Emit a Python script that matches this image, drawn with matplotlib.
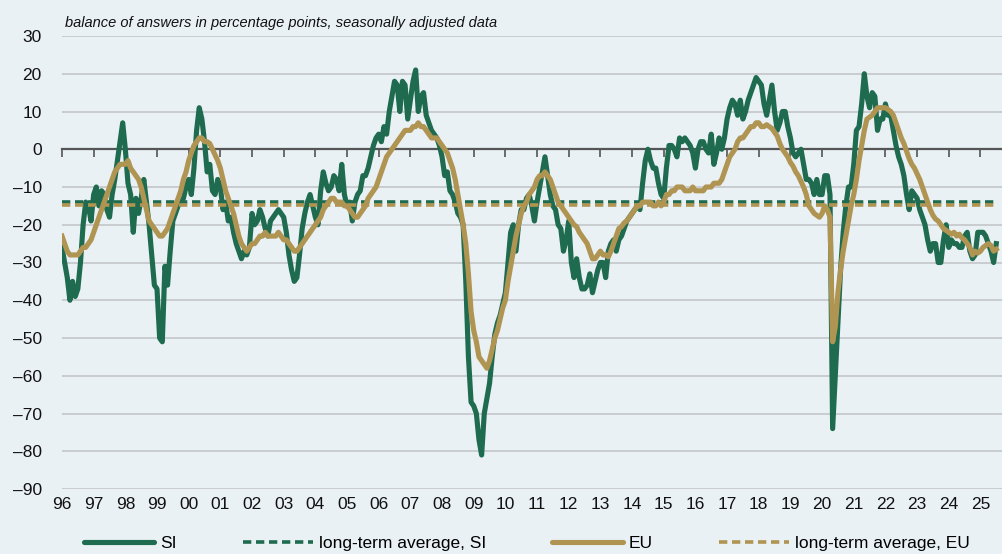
import numpy as np
import matplotlib
matplotlib.use("Agg")
import matplotlib.pyplot as plt
from matplotlib import font_manager
from matplotlib.lines import Line2D
from matplotlib.ticker import FuncFormatter

# ---------------- data (monthly, Jan 1996 - Jul 2025) ----------------
si_values = (
    [-26, -30, -34, -40, -35, -39, -37, -30, -20, -14, -15, -19]      # 1996
    + [-12, -10, -15, -11, -12, -16, -18, -12, -8, -3, 2, 7]          # 1997
    + [0, -9, -12, -22, -13, -17, -13, -8, -14, -20, -28, -36]        # 1998
    + [-37, -50, -51, -31, -36, -27, -19, -17, -15, -14, -13, -10]    # 1999
    + [-8, -12, -5, 5, 11, 8, 2, -6, -4, -11, -12, -8]                # 2000
    + [-10, -16, -14, -19, -18, -22, -25, -27, -29, -27, -28, -26]    # 2001
    + [-17, -20, -19, -16, -18, -21, -23, -19, -18, -17, -16, -17]    # 2002
    + [-18, -22, -28, -32, -35, -34, -28, -21, -17, -14, -12, -15]    # 2003
    + [-18, -20, -11, -6, -9, -11, -10, -7, -8, -11, -4, -12]         # 2004
    + [-15, -14, -19, -14, -12, -11, -7, -7, -5, -2, 1, 3]            # 2005
    + [4, 2, 6, 4, 10, 14, 18, 17, 10, 18, 17, 8]                     # 2006
    + [13, 18, 21, 10, 14, 15, 9, 7, 5, 4, 3, 1]                      # 2007
    + [-2, -7, -6, -11, -12, -14, -17, -18, -20, -35, -55, -67]       # 2008
    + [-68, -70, -77, -81, -70, -66, -62, -55, -49, -46, -44, -41]    # 2009
    + [-38, -30, -22, -20, -27, -20, -16, -16, -13, -12, -15, -19]    # 2010
    + [-14, -10, -6, -2, -7, -12, -15, -16, -20, -21, -27, -24]       # 2011
    + [-19, -30, -34, -29, -34, -37, -37, -36, -33, -38, -35, -32]    # 2012
    + [-30, -30, -34, -27, -25, -24, -27, -24, -23, -21, -19, -18]    # 2013
    + [-17, -16, -15, -16, -9, -3, 0, -3, -5, -5, -9, -12]            # 2014
    + [-13, -5, 1, 1, 0, -2, 3, 2, 3, 2, 1, -1]                       # 2015
    + [-5, 0, 2, 2, 0, -1, 4, -4, -1, 3, 0, 3]                        # 2016
    + [8, 11, 13, 12, 9, 13, 8, 10, 13, 15, 17, 19]                   # 2017
    + [18, 17, 12, 9, 13, 17, 10, 5, 7, 10, 10, 6]                    # 2018
    + [3, -1, -2, -1, 0, -4, -8, -8, -9, -12, -8, -12]                # 2019
    + [-12, -7, -7, -12, -74, -60, -46, -32, -22, -15, -10, -10]      # 2020
    + [-4, 5, 6, 12, 20, 14, 11, 15, 14, 5, 8, 8]                     # 2021
    + [12, 9, 9, 5, 1, -2, -4, -7, -12, -16, -11, -12]                # 2022
    + [-13, -16, -18, -20, -24, -27, -25, -25, -30, -30, -24, -20]    # 2023
    + [-26, -24, -25, -25, -26, -26, -23, -22, -27, -29, -28, -22]    # 2024
    + [-22, -22, -23, -25, -27, -30, -25]                             # 2025
)

eu_values = (
    [-23, -25, -27, -28, -28, -28, -28, -27, -26, -26, -25, -24]      # 1996
    + [-22, -20, -18, -16, -14, -12, -10, -8, -6, -5, -4, -4]         # 1997
    + [-4, -3, -5, -6, -7, -8, -10, -13, -16, -19, -20, -21]          # 1998
    + [-22, -23, -23, -22, -21, -19, -17, -15, -13, -11, -8, -6]      # 1999
    + [-3, -1, 1, 2, 3, 3, 2, 2, 1.5, 0, -1.5, -3]                    # 2000
    + [-5, -8, -11, -13, -15, -17, -20, -23, -25, -26, -27, -26]      # 2001
    + [-25, -25, -24, -23, -23, -22, -23, -23, -23, -23, -22, -23]    # 2002
    + [-24, -24, -25, -26, -27, -27, -26, -25, -24, -23, -22, -21]    # 2003
    + [-20, -19, -18, -16, -15, -14, -13, -13, -14, -14, -14, -15]    # 2004
    + [-15, -16, -17, -18, -18, -17, -16, -15, -13, -12, -11, -10]    # 2005
    + [-8, -6, -4, -2, -1, 0, 1, 2, 3, 4, 5, 5]                       # 2006
    + [5, 6, 6, 7, 6, 6, 5, 4, 3, 3, 3, 2]                            # 2007
    + [1, 0, -1, -3, -5, -8, -12, -16, -20, -25, -33, -43]            # 2008
    + [-48, -51, -55, -56, -57, -58, -56, -53, -50, -48, -45, -42]    # 2009
    + [-40, -35, -31, -27, -23, -20, -17, -15, -14, -12, -11, -10]    # 2010
    + [-8, -7, -7, -6, -7, -8, -10, -12, -14, -15, -16, -17]          # 2011
    + [-18, -19, -20, -20.5, -22, -23, -24, -25, -27, -29, -29, -28]  # 2012
    + [-27, -28, -28, -28.5, -27, -25, -23, -21, -20.5, -19.5, -19, -18]  # 2013
    + [-17, -16, -15, -15, -14, -14, -14, -14, -15, -15, -14, -15]    # 2014
    + [-14, -12, -12, -11, -11, -10, -10, -10, -11, -11, -11, -10]    # 2015
    + [-11, -11, -11, -11, -10, -10, -10, -9, -9, -9, -8, -6]         # 2016
    + [-4, -2, -1, 0, 2, 3, 3, 4, 5, 6, 6, 7]                         # 2017
    + [7, 6, 6, 6.5, 6, 5.5, 4.5, 3.5, 1.5, 0, -1, -2]                # 2018
    + [-3.5, -4.5, -6, -7, -8.5, -10, -12, -15, -16, -17, -17.5, -18] # 2019
    + [-17, -15, -16, -18, -51, -47, -38, -32, -27, -23, -19, -15]    # 2020
    + [-12, -8, -3, 1, 5, 8, 8.5, 9, 10, 11, 11, 11]                  # 2021
    + [11, 10.5, 10, 9, 7, 5, 3, 1.5, -0.5, -2.5, -4, -5]             # 2022
    + [-6.5, -8, -10, -12, -14, -16, -17.5, -18.5, -19, -20, -21, -21.5]  # 2023
    + [-22, -22.5, -22, -23, -22.5, -23.5, -24, -25, -26, -28, -27, -27.5]  # 2024
    + [-27, -26, -25.5, -25, -25.5, -27, -26.5]                       # 2025
)

si_longterm_avg = -14.0
eu_longterm_avg = -14.7

start_year = 1996
year_ticks = list(range(1996, 2026))
year_labels = [f"{y % 100:02d}" for y in year_ticks]
y_ticks = list(range(-90, 31, 10))

series_labels = ["SI", "long-term average, SI", "EU", "long-term average, EU"]
title_text = "balance of answers in percentage points, seasonally adjusted data"

# ---------------- style ----------------
available = {f.name for f in font_manager.fontManager.ttflist}
if "Liberation Sans Narrow" in available:
    main_font = ["Liberation Sans Narrow", "DejaVu Sans"]
    tick_fs = 14.5
else:
    main_font = ["Liberation Sans", "DejaVu Sans"]
    tick_fs = 12.5
title_font = ["Liberation Sans", "DejaVu Sans"]
plt.rcParams["font.family"] = main_font

bg = "#e9f1f5"
green = "#1f6b4f"
gold = "#b09452"
grid_c = "#c3c6c8"
axis_c = "#555555"

W, H = 1003, 554
fig = plt.figure(figsize=(W / 100, H / 100), dpi=100, facecolor=bg)
ax = fig.add_axes([62 / W, 1 - 489 / H, (W - 62) / W, (489 - 36) / H])
ax.set_facecolor(bg)

x = start_year + np.arange(len(si_values)) / 12.0
x_eu = start_year + np.arange(len(eu_values)) / 12.0

ax.plot(x, si_values, color=green, lw=3.7, solid_joinstyle="round", zorder=3)
ax.plot([x[0], x[-1]], [si_longterm_avg, si_longterm_avg], color=green, lw=2.6,
        dashes=(2.3, 1.3), zorder=4)
ax.plot(x_eu, eu_values, color=gold, lw=3.7, solid_joinstyle="round", zorder=5)
ax.plot([x_eu[0], x_eu[-1]], [eu_longterm_avg, eu_longterm_avg], color=gold, lw=2.6,
        dashes=(2.3, 1.3), zorder=6)

ax.set_ylim(-90, 30)
ax.set_xlim(start_year, start_year + (W - 62) / 31.67)

# y axis
ax.set_yticks(y_ticks)
ax.yaxis.set_major_formatter(FuncFormatter(lambda v, p: f"{int(v)}".replace("-", "\u2013")))
ax.tick_params(axis="y", length=0, pad=14.5, labelsize=tick_fs, labelcolor="#111111")
ax.yaxis.grid(True, color=grid_c, lw=1.2)
ax.set_axisbelow(True)

# zero line as the x spine with year ticks
for s in ["top", "right", "left"]:
    ax.spines[s].set_visible(False)
ax.spines["bottom"].set_position(("data", 0))
ax.spines["bottom"].set_color(axis_c)
ax.spines["bottom"].set_linewidth(1.6)
ax.spines["bottom"].set_zorder(2.5)
ax.set_xticks(year_ticks)
ax.tick_params(axis="x", direction="out", length=5.5, width=1.2, color=axis_c,
               labelbottom=False)

sec = ax.secondary_xaxis("bottom")
sec.set_xticks(year_ticks, year_labels)
sec.tick_params(length=0, pad=6, labelsize=tick_fs, labelcolor="#111111")
sec.spines["bottom"].set_visible(False)

# title
fig.text(65 / W, 1 - 27 / H, title_text, fontsize=10.5, style="italic",
         family=title_font, color="#111111", va="baseline", ha="left")

# legend
handles = [
    Line2D([], [], color=green, lw=3.7, solid_capstyle="round"),
    Line2D([], [], color=green, lw=2.6, dashes=(2.3, 1.3)),
    Line2D([], [], color=gold, lw=3.7, solid_capstyle="round"),
    Line2D([], [], color=gold, lw=2.6, dashes=(2.3, 1.3)),
]
fig.legend(handles, series_labels, loc="center", bbox_to_anchor=(527 / W, 1 - 543 / H),
           ncol=4, frameon=False, handlelength=4.05, columnspacing=3.8,
           handletextpad=0.35, fontsize=tick_fs, borderaxespad=0, borderpad=0)

fig.savefig("out.png", dpi=100, facecolor=bg)
